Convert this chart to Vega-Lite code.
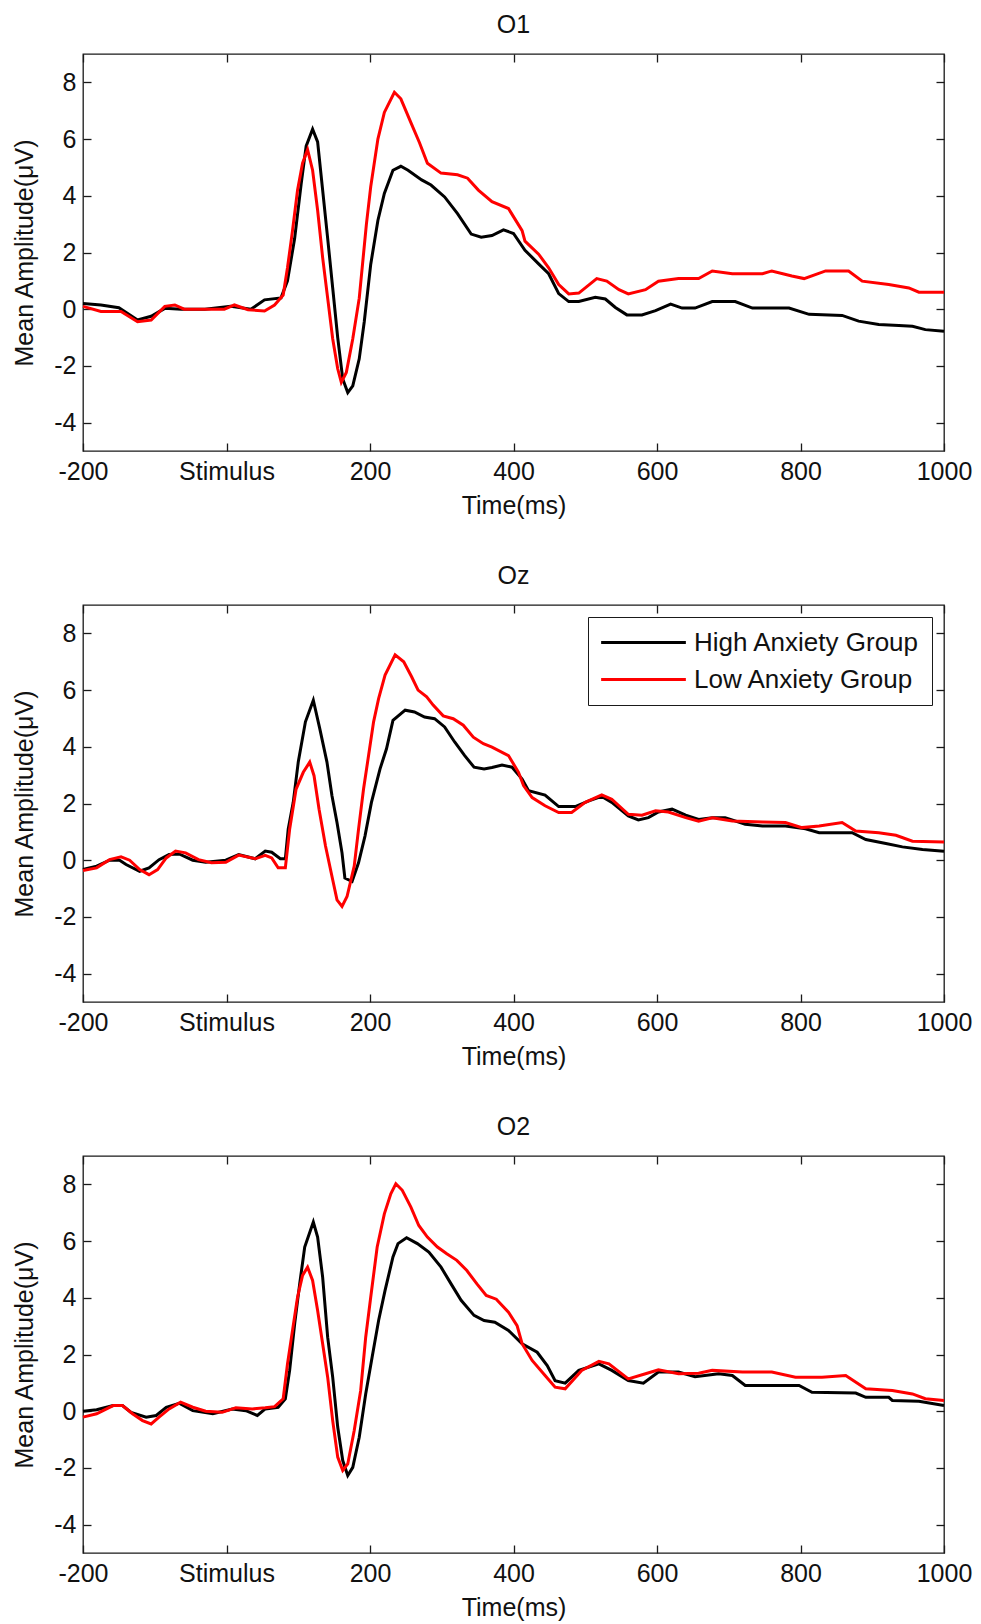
{
  "$schema": "https://vega.github.io/schema/vega-lite/v6.json",
  "padding": {"left": 12, "top": 12, "right": 10, "bottom": 0},
  "background": "white",
  "config": {
    "font": "Liberation Sans",
    "view": {"stroke": "#1a1a1a", "strokeWidth": 1.3},
    "axis": {"grid": false, "domain": false, "ticks": true, "tickSize": -8, "tickColor": "#1a1a1a", "tickWidth": 1.3, "labelFontSize": 25, "labelColor": "#111111", "titleFontSize": 25, "titleFontWeight": "normal", "titleColor": "#111111", "labelFlush": false, "labelFont": "Liberation Sans", "titleFont": "Liberation Sans"},
    "axisX": {"labelPadding": 16, "titlePadding": 9},
    "axisY": {"labelPadding": 15, "titlePadding": 16},
    "title": {"fontSize": 25, "fontWeight": "normal", "font": "Liberation Sans", "color": "#111111", "offset": 15},
    "legend": {"labelFont": "Liberation Sans"}
  },
  "datasets": {
    "O1": [
      {"g":"High Anxiety Group","t":-200,"v":0.2},{"g":"High Anxiety Group","t":-175,"v":0.15},{"g":"High Anxiety Group","t":-150,"v":0.05},{"g":"High Anxiety Group","t":-124,"v":-0.38},{"g":"High Anxiety Group","t":-105,"v":-0.25},{"g":"High Anxiety Group","t":-86,"v":0.03},{"g":"High Anxiety Group","t":-63,"v":0},{"g":"High Anxiety Group","t":-30,"v":0},{"g":"High Anxiety Group","t":6,"v":0.1},{"g":"High Anxiety Group","t":34,"v":0},{"g":"High Anxiety Group","t":53,"v":0.33},{"g":"High Anxiety Group","t":76,"v":0.4},{"g":"High Anxiety Group","t":85,"v":1.0},{"g":"High Anxiety Group","t":95,"v":2.5},{"g":"High Anxiety Group","t":104,"v":4.4},{"g":"High Anxiety Group","t":111,"v":5.75},{"g":"High Anxiety Group","t":120,"v":6.35},{"g":"High Anxiety Group","t":127,"v":5.9},{"g":"High Anxiety Group","t":134,"v":4.2},{"g":"High Anxiety Group","t":141,"v":2.5},{"g":"High Anxiety Group","t":148,"v":0.75},{"g":"High Anxiety Group","t":155,"v":-1.0},{"g":"High Anxiety Group","t":162,"v":-2.46},{"g":"High Anxiety Group","t":169,"v":-2.94},{"g":"High Anxiety Group","t":176,"v":-2.7},{"g":"High Anxiety Group","t":185,"v":-1.75},{"g":"High Anxiety Group","t":192,"v":-0.44},{"g":"High Anxiety Group","t":201,"v":1.58},{"g":"High Anxiety Group","t":211,"v":3.13},{"g":"High Anxiety Group","t":220,"v":4.08},{"g":"High Anxiety Group","t":232,"v":4.9},{"g":"High Anxiety Group","t":243,"v":5.04},{"g":"High Anxiety Group","t":253,"v":4.9},{"g":"High Anxiety Group","t":272,"v":4.56},{"g":"High Anxiety Group","t":285,"v":4.38},{"g":"High Anxiety Group","t":304,"v":3.96},{"g":"High Anxiety Group","t":322,"v":3.37},{"g":"High Anxiety Group","t":341,"v":2.65},{"g":"High Anxiety Group","t":355,"v":2.54},{"g":"High Anxiety Group","t":370,"v":2.6},{"g":"High Anxiety Group","t":386,"v":2.8},{"g":"High Anxiety Group","t":400,"v":2.67},{"g":"High Anxiety Group","t":416,"v":2.08},{"g":"High Anxiety Group","t":435,"v":1.6},{"g":"High Anxiety Group","t":449,"v":1.25},{"g":"High Anxiety Group","t":463,"v":0.55},{"g":"High Anxiety Group","t":477,"v":0.27},{"g":"High Anxiety Group","t":491,"v":0.27},{"g":"High Anxiety Group","t":514,"v":0.42},{"g":"High Anxiety Group","t":528,"v":0.36},{"g":"High Anxiety Group","t":542,"v":0.06},{"g":"High Anxiety Group","t":558,"v":-0.2},{"g":"High Anxiety Group","t":579,"v":-0.2},{"g":"High Anxiety Group","t":598,"v":-0.05},{"g":"High Anxiety Group","t":619,"v":0.18},{"g":"High Anxiety Group","t":635,"v":0.04},{"g":"High Anxiety Group","t":653,"v":0.04},{"g":"High Anxiety Group","t":677,"v":0.27},{"g":"High Anxiety Group","t":709,"v":0.27},{"g":"High Anxiety Group","t":733,"v":0.04},{"g":"High Anxiety Group","t":784,"v":0.04},{"g":"High Anxiety Group","t":812,"v":-0.18},{"g":"High Anxiety Group","t":858,"v":-0.22},{"g":"High Anxiety Group","t":881,"v":-0.42},{"g":"High Anxiety Group","t":909,"v":-0.54},{"g":"High Anxiety Group","t":937,"v":-0.57},{"g":"High Anxiety Group","t":956,"v":-0.6},{"g":"High Anxiety Group","t":974,"v":-0.72},{"g":"High Anxiety Group","t":1000,"v":-0.78},
      {"g":"Low Anxiety Group","t":-200,"v":0.1},{"g":"Low Anxiety Group","t":-175,"v":-0.08},{"g":"Low Anxiety Group","t":-147,"v":-0.08},{"g":"Low Anxiety Group","t":-124,"v":-0.44},{"g":"Low Anxiety Group","t":-105,"v":-0.38},{"g":"Low Anxiety Group","t":-86,"v":0.1},{"g":"Low Anxiety Group","t":-72,"v":0.15},{"g":"Low Anxiety Group","t":-59,"v":0},{"g":"Low Anxiety Group","t":-3,"v":0},{"g":"Low Anxiety Group","t":11,"v":0.15},{"g":"Low Anxiety Group","t":30,"v":-0.02},{"g":"Low Anxiety Group","t":53,"v":-0.06},{"g":"Low Anxiety Group","t":67,"v":0.15},{"g":"Low Anxiety Group","t":79,"v":0.5},{"g":"Low Anxiety Group","t":85,"v":1.46},{"g":"Low Anxiety Group","t":92,"v":2.77},{"g":"Low Anxiety Group","t":99,"v":4.2},{"g":"Low Anxiety Group","t":106,"v":5.15},{"g":"Low Anxiety Group","t":113,"v":5.63},{"g":"Low Anxiety Group","t":120,"v":4.9},{"g":"Low Anxiety Group","t":127,"v":3.49},{"g":"Low Anxiety Group","t":134,"v":1.82},{"g":"Low Anxiety Group","t":141,"v":0.39},{"g":"Low Anxiety Group","t":148,"v":-1.04},{"g":"Low Anxiety Group","t":155,"v":-2.1},{"g":"Low Anxiety Group","t":160,"v":-2.58},{"g":"Low Anxiety Group","t":167,"v":-2.23},{"g":"Low Anxiety Group","t":176,"v":-1.04},{"g":"Low Anxiety Group","t":185,"v":0.39},{"g":"Low Anxiety Group","t":195,"v":3.0},{"g":"Low Anxiety Group","t":201,"v":4.32},{"g":"Low Anxiety Group","t":211,"v":6.0},{"g":"Low Anxiety Group","t":220,"v":6.94},{"g":"Low Anxiety Group","t":234,"v":7.65},{"g":"Low Anxiety Group","t":243,"v":7.42},{"g":"Low Anxiety Group","t":257,"v":6.58},{"g":"Low Anxiety Group","t":269,"v":5.87},{"g":"Low Anxiety Group","t":280,"v":5.15},{"g":"Low Anxiety Group","t":299,"v":4.8},{"g":"Low Anxiety Group","t":322,"v":4.74},{"g":"Low Anxiety Group","t":336,"v":4.62},{"g":"Low Anxiety Group","t":351,"v":4.2},{"g":"Low Anxiety Group","t":370,"v":3.79},{"g":"Low Anxiety Group","t":393,"v":3.55},{"g":"Low Anxiety Group","t":412,"v":2.77},{"g":"Low Anxiety Group","t":416,"v":2.4},{"g":"Low Anxiety Group","t":435,"v":1.94},{"g":"Low Anxiety Group","t":449,"v":1.46},{"g":"Low Anxiety Group","t":463,"v":0.87},{"g":"Low Anxiety Group","t":477,"v":0.54},{"g":"Low Anxiety Group","t":491,"v":0.57},{"g":"Low Anxiety Group","t":516,"v":1.08},{"g":"Low Anxiety Group","t":530,"v":0.99},{"g":"Low Anxiety Group","t":547,"v":0.69},{"g":"Low Anxiety Group","t":560,"v":0.54},{"g":"Low Anxiety Group","t":584,"v":0.69},{"g":"Low Anxiety Group","t":602,"v":0.99},{"g":"Low Anxiety Group","t":630,"v":1.08},{"g":"Low Anxiety Group","t":658,"v":1.08},{"g":"Low Anxiety Group","t":677,"v":1.35},{"g":"Low Anxiety Group","t":705,"v":1.25},{"g":"Low Anxiety Group","t":747,"v":1.25},{"g":"Low Anxiety Group","t":760,"v":1.35},{"g":"Low Anxiety Group","t":788,"v":1.17},{"g":"Low Anxiety Group","t":805,"v":1.08},{"g":"Low Anxiety Group","t":835,"v":1.35},{"g":"Low Anxiety Group","t":867,"v":1.35},{"g":"Low Anxiety Group","t":886,"v":0.99},{"g":"Low Anxiety Group","t":923,"v":0.87},{"g":"Low Anxiety Group","t":951,"v":0.75},{"g":"Low Anxiety Group","t":965,"v":0.6},{"g":"Low Anxiety Group","t":1000,"v":0.6}
    ],
    "Oz": [
      {"g":"High Anxiety Group","t":-200,"v":-0.33},{"g":"High Anxiety Group","t":-181,"v":-0.21},{"g":"High Anxiety Group","t":-163,"v":0},{"g":"High Anxiety Group","t":-149,"v":0},{"g":"High Anxiety Group","t":-140,"v":-0.15},{"g":"High Anxiety Group","t":-121,"v":-0.39},{"g":"High Anxiety Group","t":-108,"v":-0.27},{"g":"High Anxiety Group","t":-94,"v":0.02},{"g":"High Anxiety Group","t":-80,"v":0.2},{"g":"High Anxiety Group","t":-66,"v":0.22},{"g":"High Anxiety Group","t":-47,"v":0},{"g":"High Anxiety Group","t":-29,"v":-0.07},{"g":"High Anxiety Group","t":-1,"v":0},{"g":"High Anxiety Group","t":17,"v":0.2},{"g":"High Anxiety Group","t":40,"v":0.05},{"g":"High Anxiety Group","t":54,"v":0.32},{"g":"High Anxiety Group","t":63,"v":0.28},{"g":"High Anxiety Group","t":75,"v":0.05},{"g":"High Anxiety Group","t":82,"v":0.05},{"g":"High Anxiety Group","t":86,"v":1.09},{"g":"High Anxiety Group","t":93,"v":2.04},{"g":"High Anxiety Group","t":100,"v":3.46},{"g":"High Anxiety Group","t":110,"v":4.88},{"g":"High Anxiety Group","t":121,"v":5.64},{"g":"High Anxiety Group","t":130,"v":4.64},{"g":"High Anxiety Group","t":140,"v":3.46},{"g":"High Anxiety Group","t":147,"v":2.27},{"g":"High Anxiety Group","t":154,"v":1.33},{"g":"High Anxiety Group","t":161,"v":0.26},{"g":"High Anxiety Group","t":165,"v":-0.63},{"g":"High Anxiety Group","t":175,"v":-0.75},{"g":"High Anxiety Group","t":184,"v":-0.09},{"g":"High Anxiety Group","t":193,"v":0.85},{"g":"High Anxiety Group","t":202,"v":2.04},{"g":"High Anxiety Group","t":214,"v":3.22},{"g":"High Anxiety Group","t":223,"v":3.93},{"g":"High Anxiety Group","t":232,"v":4.93},{"g":"High Anxiety Group","t":249,"v":5.29},{"g":"High Anxiety Group","t":262,"v":5.23},{"g":"High Anxiety Group","t":276,"v":5.05},{"g":"High Anxiety Group","t":290,"v":4.99},{"g":"High Anxiety Group","t":304,"v":4.7},{"g":"High Anxiety Group","t":318,"v":4.17},{"g":"High Anxiety Group","t":332,"v":3.69},{"g":"High Anxiety Group","t":345,"v":3.28},{"g":"High Anxiety Group","t":359,"v":3.22},{"g":"High Anxiety Group","t":370,"v":3.27},{"g":"High Anxiety Group","t":384,"v":3.36},{"g":"High Anxiety Group","t":398,"v":3.28},{"g":"High Anxiety Group","t":412,"v":2.86},{"g":"High Anxiety Group","t":421,"v":2.45},{"g":"High Anxiety Group","t":444,"v":2.3},{"g":"High Anxiety Group","t":463,"v":1.89},{"g":"High Anxiety Group","t":486,"v":1.89},{"g":"High Anxiety Group","t":505,"v":2.09},{"g":"High Anxiety Group","t":523,"v":2.25},{"g":"High Anxiety Group","t":537,"v":2.04},{"g":"High Anxiety Group","t":560,"v":1.56},{"g":"High Anxiety Group","t":574,"v":1.42},{"g":"High Anxiety Group","t":588,"v":1.5},{"g":"High Anxiety Group","t":602,"v":1.7},{"g":"High Anxiety Group","t":621,"v":1.8},{"g":"High Anxiety Group","t":640,"v":1.59},{"g":"High Anxiety Group","t":658,"v":1.44},{"g":"High Anxiety Group","t":677,"v":1.5},{"g":"High Anxiety Group","t":695,"v":1.5},{"g":"High Anxiety Group","t":723,"v":1.27},{"g":"High Anxiety Group","t":747,"v":1.21},{"g":"High Anxiety Group","t":779,"v":1.21},{"g":"High Anxiety Group","t":807,"v":1.11},{"g":"High Anxiety Group","t":826,"v":0.97},{"g":"High Anxiety Group","t":872,"v":0.97},{"g":"High Anxiety Group","t":891,"v":0.73},{"g":"High Anxiety Group","t":919,"v":0.59},{"g":"High Anxiety Group","t":942,"v":0.47},{"g":"High Anxiety Group","t":970,"v":0.38},{"g":"High Anxiety Group","t":1000,"v":0.32},
      {"g":"Low Anxiety Group","t":-200,"v":-0.36},{"g":"Low Anxiety Group","t":-181,"v":-0.27},{"g":"Low Anxiety Group","t":-163,"v":0.02},{"g":"Low Anxiety Group","t":-147,"v":0.12},{"g":"Low Anxiety Group","t":-135,"v":0},{"g":"Low Anxiety Group","t":-121,"v":-0.33},{"g":"Low Anxiety Group","t":-108,"v":-0.51},{"g":"Low Anxiety Group","t":-96,"v":-0.33},{"g":"Low Anxiety Group","t":-84,"v":0.08},{"g":"Low Anxiety Group","t":-71,"v":0.32},{"g":"Low Anxiety Group","t":-57,"v":0.26},{"g":"Low Anxiety Group","t":-39,"v":0.02},{"g":"Low Anxiety Group","t":-21,"v":-0.09},{"g":"Low Anxiety Group","t":-1,"v":-0.07},{"g":"Low Anxiety Group","t":17,"v":0.18},{"g":"Low Anxiety Group","t":40,"v":0.05},{"g":"Low Anxiety Group","t":54,"v":0.17},{"g":"Low Anxiety Group","t":63,"v":0.08},{"g":"Low Anxiety Group","t":72,"v":-0.27},{"g":"Low Anxiety Group","t":82,"v":-0.27},{"g":"Low Anxiety Group","t":88,"v":1.09},{"g":"Low Anxiety Group","t":97,"v":2.51},{"g":"Low Anxiety Group","t":107,"v":3.1},{"g":"Low Anxiety Group","t":116,"v":3.46},{"g":"Low Anxiety Group","t":122,"v":2.98},{"g":"Low Anxiety Group","t":129,"v":1.8},{"g":"Low Anxiety Group","t":138,"v":0.5},{"g":"Low Anxiety Group","t":148,"v":-0.69},{"g":"Low Anxiety Group","t":154,"v":-1.4},{"g":"Low Anxiety Group","t":161,"v":-1.63},{"g":"Low Anxiety Group","t":168,"v":-1.28},{"g":"Low Anxiety Group","t":178,"v":-0.21},{"g":"Low Anxiety Group","t":184,"v":1.09},{"g":"Low Anxiety Group","t":191,"v":2.51},{"g":"Low Anxiety Group","t":198,"v":3.69},{"g":"Low Anxiety Group","t":205,"v":4.88},{"g":"Low Anxiety Group","t":212,"v":5.7},{"g":"Low Anxiety Group","t":221,"v":6.53},{"g":"Low Anxiety Group","t":235,"v":7.24},{"g":"Low Anxiety Group","t":247,"v":7.0},{"g":"Low Anxiety Group","t":258,"v":6.47},{"g":"Low Anxiety Group","t":267,"v":6.0},{"g":"Low Anxiety Group","t":279,"v":5.76},{"g":"Low Anxiety Group","t":288,"v":5.47},{"g":"Low Anxiety Group","t":302,"v":5.09},{"g":"Low Anxiety Group","t":316,"v":4.99},{"g":"Low Anxiety Group","t":330,"v":4.76},{"g":"Low Anxiety Group","t":344,"v":4.34},{"g":"Low Anxiety Group","t":358,"v":4.11},{"g":"Low Anxiety Group","t":370,"v":3.99},{"g":"Low Anxiety Group","t":393,"v":3.69},{"g":"Low Anxiety Group","t":407,"v":3.1},{"g":"Low Anxiety Group","t":414,"v":2.63},{"g":"Low Anxiety Group","t":426,"v":2.21},{"g":"Low Anxiety Group","t":444,"v":1.92},{"g":"Low Anxiety Group","t":463,"v":1.68},{"g":"Low Anxiety Group","t":481,"v":1.68},{"g":"Low Anxiety Group","t":500,"v":2.04},{"g":"Low Anxiety Group","t":523,"v":2.3},{"g":"Low Anxiety Group","t":537,"v":2.15},{"g":"Low Anxiety Group","t":560,"v":1.62},{"g":"Low Anxiety Group","t":579,"v":1.59},{"g":"Low Anxiety Group","t":598,"v":1.74},{"g":"Low Anxiety Group","t":616,"v":1.7},{"g":"Low Anxiety Group","t":640,"v":1.5},{"g":"Low Anxiety Group","t":658,"v":1.38},{"g":"Low Anxiety Group","t":677,"v":1.5},{"g":"Low Anxiety Group","t":705,"v":1.38},{"g":"Low Anxiety Group","t":747,"v":1.35},{"g":"Low Anxiety Group","t":779,"v":1.33},{"g":"Low Anxiety Group","t":802,"v":1.15},{"g":"Low Anxiety Group","t":826,"v":1.21},{"g":"Low Anxiety Group","t":858,"v":1.33},{"g":"Low Anxiety Group","t":877,"v":1.03},{"g":"Low Anxiety Group","t":909,"v":0.97},{"g":"Low Anxiety Group","t":933,"v":0.88},{"g":"Low Anxiety Group","t":956,"v":0.67},{"g":"Low Anxiety Group","t":1000,"v":0.64}
    ],
    "O2": [
      {"g":"High Anxiety Group","t":-200,"v":0},{"g":"High Anxiety Group","t":-181,"v":0.05},{"g":"High Anxiety Group","t":-158,"v":0.2},{"g":"High Anxiety Group","t":-145,"v":0.2},{"g":"High Anxiety Group","t":-133,"v":-0.04},{"g":"High Anxiety Group","t":-112,"v":-0.21},{"g":"High Anxiety Group","t":-98,"v":-0.15},{"g":"High Anxiety Group","t":-84,"v":0.14},{"g":"High Anxiety Group","t":-66,"v":0.28},{"g":"High Anxiety Group","t":-47,"v":0.02},{"g":"High Anxiety Group","t":-19,"v":-0.09},{"g":"High Anxiety Group","t":8,"v":0.08},{"g":"High Anxiety Group","t":27,"v":0.02},{"g":"High Anxiety Group","t":43,"v":-0.15},{"g":"High Anxiety Group","t":54,"v":0.08},{"g":"High Anxiety Group","t":72,"v":0.14},{"g":"High Anxiety Group","t":82,"v":0.44},{"g":"High Anxiety Group","t":88,"v":1.44},{"g":"High Anxiety Group","t":95,"v":3.08},{"g":"High Anxiety Group","t":102,"v":4.49},{"g":"High Anxiety Group","t":109,"v":5.79},{"g":"High Anxiety Group","t":121,"v":6.67},{"g":"High Anxiety Group","t":127,"v":6.14},{"g":"High Anxiety Group","t":134,"v":4.73},{"g":"High Anxiety Group","t":141,"v":2.61},{"g":"High Anxiety Group","t":148,"v":1.2},{"g":"High Anxiety Group","t":155,"v":-0.56},{"g":"High Anxiety Group","t":162,"v":-1.74},{"g":"High Anxiety Group","t":169,"v":-2.27},{"g":"High Anxiety Group","t":176,"v":-1.98},{"g":"High Anxiety Group","t":185,"v":-0.92},{"g":"High Anxiety Group","t":194,"v":0.61},{"g":"High Anxiety Group","t":203,"v":1.91},{"g":"High Anxiety Group","t":212,"v":3.2},{"g":"High Anxiety Group","t":221,"v":4.26},{"g":"High Anxiety Group","t":232,"v":5.44},{"g":"High Anxiety Group","t":239,"v":5.91},{"g":"High Anxiety Group","t":251,"v":6.12},{"g":"High Anxiety Group","t":266,"v":5.91},{"g":"High Anxiety Group","t":282,"v":5.61},{"g":"High Anxiety Group","t":299,"v":5.08},{"g":"High Anxiety Group","t":313,"v":4.49},{"g":"High Anxiety Group","t":327,"v":3.91},{"g":"High Anxiety Group","t":345,"v":3.38},{"g":"High Anxiety Group","t":359,"v":3.2},{"g":"High Anxiety Group","t":374,"v":3.14},{"g":"High Anxiety Group","t":393,"v":2.85},{"g":"High Anxiety Group","t":412,"v":2.38},{"g":"High Anxiety Group","t":433,"v":2.08},{"g":"High Anxiety Group","t":447,"v":1.61},{"g":"High Anxiety Group","t":458,"v":1.08},{"g":"High Anxiety Group","t":472,"v":0.99},{"g":"High Anxiety Group","t":491,"v":1.44},{"g":"High Anxiety Group","t":519,"v":1.67},{"g":"High Anxiety Group","t":537,"v":1.44},{"g":"High Anxiety Group","t":560,"v":1.08},{"g":"High Anxiety Group","t":581,"v":0.99},{"g":"High Anxiety Group","t":602,"v":1.38},{"g":"High Anxiety Group","t":630,"v":1.38},{"g":"High Anxiety Group","t":653,"v":1.22},{"g":"High Anxiety Group","t":686,"v":1.32},{"g":"High Anxiety Group","t":705,"v":1.26},{"g":"High Anxiety Group","t":723,"v":0.91},{"g":"High Anxiety Group","t":798,"v":0.91},{"g":"High Anxiety Group","t":816,"v":0.67},{"g":"High Anxiety Group","t":877,"v":0.64},{"g":"High Anxiety Group","t":891,"v":0.49},{"g":"High Anxiety Group","t":923,"v":0.49},{"g":"High Anxiety Group","t":928,"v":0.38},{"g":"High Anxiety Group","t":965,"v":0.35},{"g":"High Anxiety Group","t":1000,"v":0.2},
      {"g":"Low Anxiety Group","t":-200,"v":-0.21},{"g":"Low Anxiety Group","t":-181,"v":-0.09},{"g":"Low Anxiety Group","t":-158,"v":0.2},{"g":"Low Anxiety Group","t":-145,"v":0.2},{"g":"Low Anxiety Group","t":-131,"v":-0.09},{"g":"Low Anxiety Group","t":-117,"v":-0.33},{"g":"Low Anxiety Group","t":-105,"v":-0.45},{"g":"Low Anxiety Group","t":-94,"v":-0.21},{"g":"Low Anxiety Group","t":-80,"v":0.08},{"g":"Low Anxiety Group","t":-64,"v":0.32},{"g":"Low Anxiety Group","t":-47,"v":0.14},{"g":"Low Anxiety Group","t":-29,"v":0},{"g":"Low Anxiety Group","t":-6,"v":-0.04},{"g":"Low Anxiety Group","t":13,"v":0.12},{"g":"Low Anxiety Group","t":36,"v":0.08},{"g":"Low Anxiety Group","t":54,"v":0.12},{"g":"Low Anxiety Group","t":67,"v":0.16},{"g":"Low Anxiety Group","t":79,"v":0.44},{"g":"Low Anxiety Group","t":85,"v":1.67},{"g":"Low Anxiety Group","t":92,"v":2.85},{"g":"Low Anxiety Group","t":99,"v":4.02},{"g":"Low Anxiety Group","t":106,"v":4.79},{"g":"Low Anxiety Group","t":113,"v":5.08},{"g":"Low Anxiety Group","t":120,"v":4.61},{"g":"Low Anxiety Group","t":127,"v":3.55},{"g":"Low Anxiety Group","t":134,"v":2.38},{"g":"Low Anxiety Group","t":141,"v":1.2},{"g":"Low Anxiety Group","t":148,"v":-0.33},{"g":"Low Anxiety Group","t":155,"v":-1.62},{"g":"Low Anxiety Group","t":162,"v":-2.09},{"g":"Low Anxiety Group","t":169,"v":-1.86},{"g":"Low Anxiety Group","t":178,"v":-0.68},{"g":"Low Anxiety Group","t":187,"v":0.73},{"g":"Low Anxiety Group","t":194,"v":2.61},{"g":"Low Anxiety Group","t":201,"v":4.02},{"g":"Low Anxiety Group","t":210,"v":5.79},{"g":"Low Anxiety Group","t":220,"v":6.96},{"g":"Low Anxiety Group","t":229,"v":7.67},{"g":"Low Anxiety Group","t":236,"v":8.02},{"g":"Low Anxiety Group","t":245,"v":7.79},{"g":"Low Anxiety Group","t":257,"v":7.2},{"g":"Low Anxiety Group","t":268,"v":6.55},{"g":"Low Anxiety Group","t":280,"v":6.14},{"g":"Low Anxiety Group","t":294,"v":5.79},{"g":"Low Anxiety Group","t":307,"v":5.55},{"g":"Low Anxiety Group","t":321,"v":5.32},{"g":"Low Anxiety Group","t":335,"v":4.96},{"g":"Low Anxiety Group","t":349,"v":4.49},{"g":"Low Anxiety Group","t":362,"v":4.08},{"g":"Low Anxiety Group","t":376,"v":3.95},{"g":"Low Anxiety Group","t":393,"v":3.49},{"g":"Low Anxiety Group","t":405,"v":3.02},{"g":"Low Anxiety Group","t":412,"v":2.38},{"g":"Low Anxiety Group","t":426,"v":1.79},{"g":"Low Anxiety Group","t":444,"v":1.26},{"g":"Low Anxiety Group","t":458,"v":0.85},{"g":"Low Anxiety Group","t":472,"v":0.79},{"g":"Low Anxiety Group","t":495,"v":1.44},{"g":"Low Anxiety Group","t":519,"v":1.76},{"g":"Low Anxiety Group","t":533,"v":1.67},{"g":"Low Anxiety Group","t":560,"v":1.14},{"g":"Low Anxiety Group","t":584,"v":1.32},{"g":"Low Anxiety Group","t":602,"v":1.46},{"g":"Low Anxiety Group","t":630,"v":1.32},{"g":"Low Anxiety Group","t":658,"v":1.34},{"g":"Low Anxiety Group","t":677,"v":1.44},{"g":"Low Anxiety Group","t":719,"v":1.38},{"g":"Low Anxiety Group","t":760,"v":1.38},{"g":"Low Anxiety Group","t":793,"v":1.2},{"g":"Low Anxiety Group","t":830,"v":1.2},{"g":"Low Anxiety Group","t":863,"v":1.26},{"g":"Low Anxiety Group","t":891,"v":0.79},{"g":"Low Anxiety Group","t":928,"v":0.73},{"g":"Low Anxiety Group","t":956,"v":0.61},{"g":"Low Anxiety Group","t":974,"v":0.44},{"g":"Low Anxiety Group","t":1000,"v":0.38}
    ]
  },
  "spacing": 44,
  "resolve": {"scale": {"color": "independent"}, "legend": {"color": "independent"}},
  "vconcat": [
    {
      "title": "O1",
      "width": 861, "height": 397,
      "data": {"name": "O1"},
      "layer": [
        {
          "mark": {"type": "line", "strokeWidth": 3, "interpolate": "linear"},
          "encoding": {
            "x": {"field": "t", "type": "quantitative", "scale": {"domain": [-200, 1000], "nice": false, "zero": false}, "axis": {"orient": "bottom", "values": [-200, 0, 200, 400, 600, 800, 1000], "labelExpr": "datum.value === 0 ? 'Stimulus' : '' + datum.value", "title": "Time(ms)"}},
            "y": {"field": "v", "type": "quantitative", "scale": {"domain": [-5, 9], "nice": false, "zero": false}, "axis": {"orient": "left", "values": [-4, -2, 0, 2, 4, 6, 8], "labelExpr": "'' + datum.value", "title": "Mean Amplitude(μV)"}},
            "color": {"field": "g", "type": "nominal", "scale": {"domain": ["High Anxiety Group", "Low Anxiety Group"], "range": ["#000000", "#ff0000"]}, "legend": null}
          }
        },
        {
          "mark": {"type": "line", "opacity": 0},
          "encoding": {
            "x": {"field": "t", "type": "quantitative", "axis": {"orient": "top", "values": [-200, 0, 200, 400, 600, 800, 1000], "labels": false, "title": null}},
            "y": {"field": "v", "type": "quantitative", "axis": {"orient": "right", "values": [-4, -2, 0, 2, 4, 6, 8], "labels": false, "title": null}},
            "detail": {"field": "g"}
          }
        }
      ],
      "resolve": {"axis": {"x": "independent", "y": "independent"}}
    },
    {
      "title": "Oz",
      "width": 861, "height": 397,
      "data": {"name": "Oz"},
      "layer": [
        {
          "mark": {"type": "line", "strokeWidth": 3, "interpolate": "linear"},
          "encoding": {
            "x": {"field": "t", "type": "quantitative", "scale": {"domain": [-200, 1000], "nice": false, "zero": false}, "axis": {"orient": "bottom", "values": [-200, 0, 200, 400, 600, 800, 1000], "labelExpr": "datum.value === 0 ? 'Stimulus' : '' + datum.value", "title": "Time(ms)"}},
            "y": {"field": "v", "type": "quantitative", "scale": {"domain": [-5, 9], "nice": false, "zero": false}, "axis": {"orient": "left", "values": [-4, -2, 0, 2, 4, 6, 8], "labelExpr": "'' + datum.value", "title": "Mean Amplitude(μV)"}},
            "color": {"field": "g", "type": "nominal", "scale": {"domain": ["High Anxiety Group", "Low Anxiety Group"], "range": ["#000000", "#ff0000"]},
              "legend": {"orient": "top-right", "offset": 12, "title": null, "symbolType": "M-3.53,0H3.53", "symbolSize": 576, "symbolStrokeWidth": 3, "symbolOffset": 30, "labelOffset": 37, "labelFontSize": 26, "labelColor": "#111111", "labelLimit": 400, "rowPadding": 10, "padding": 12, "strokeColor": "#1a1a1a", "fillColor": "white"}}
          }
        },
        {
          "mark": {"type": "line", "opacity": 0},
          "encoding": {
            "x": {"field": "t", "type": "quantitative", "axis": {"orient": "top", "values": [-200, 0, 200, 400, 600, 800, 1000], "labels": false, "title": null}},
            "y": {"field": "v", "type": "quantitative", "axis": {"orient": "right", "values": [-4, -2, 0, 2, 4, 6, 8], "labels": false, "title": null}},
            "detail": {"field": "g"}
          }
        }
      ],
      "resolve": {"axis": {"x": "independent", "y": "independent"}}
    },
    {
      "title": "O2",
      "width": 861, "height": 397,
      "data": {"name": "O2"},
      "layer": [
        {
          "mark": {"type": "line", "strokeWidth": 3, "interpolate": "linear"},
          "encoding": {
            "x": {"field": "t", "type": "quantitative", "scale": {"domain": [-200, 1000], "nice": false, "zero": false}, "axis": {"orient": "bottom", "values": [-200, 0, 200, 400, 600, 800, 1000], "labelExpr": "datum.value === 0 ? 'Stimulus' : '' + datum.value", "title": "Time(ms)"}},
            "y": {"field": "v", "type": "quantitative", "scale": {"domain": [-5, 9], "nice": false, "zero": false}, "axis": {"orient": "left", "values": [-4, -2, 0, 2, 4, 6, 8], "labelExpr": "'' + datum.value", "title": "Mean Amplitude(μV)"}},
            "color": {"field": "g", "type": "nominal", "scale": {"domain": ["High Anxiety Group", "Low Anxiety Group"], "range": ["#000000", "#ff0000"]}, "legend": null}
          }
        },
        {
          "mark": {"type": "line", "opacity": 0},
          "encoding": {
            "x": {"field": "t", "type": "quantitative", "axis": {"orient": "top", "values": [-200, 0, 200, 400, 600, 800, 1000], "labels": false, "title": null}},
            "y": {"field": "v", "type": "quantitative", "axis": {"orient": "right", "values": [-4, -2, 0, 2, 4, 6, 8], "labels": false, "title": null}},
            "detail": {"field": "g"}
          }
        }
      ],
      "resolve": {"axis": {"x": "independent", "y": "independent"}}
    }
  ]
}
